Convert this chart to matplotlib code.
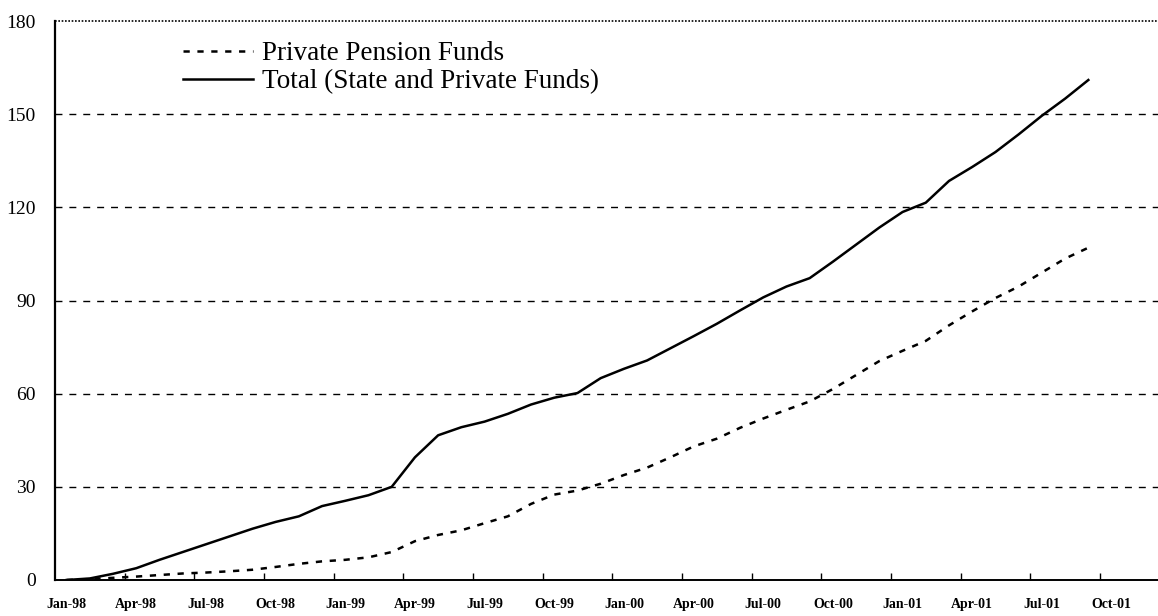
import matplotlib
matplotlib.use("Agg")
import matplotlib.pyplot as plt
import numpy as np

plt.rcParams['font.family'] = ['Liberation Serif', 'DejaVu Serif']
plt.rcParams['lines.scale_dashes'] = False

# monthly values, Jan-98 .. Sep-01
months = np.arange(45)
private_funds = [0.0, 0.3, 0.7, 1.1, 1.6, 2.1, 2.4, 2.8, 3.3, 4.2,
                 5.2, 6.0, 6.5, 7.3, 9.0, 12.5, 14.5, 16.0, 18.3, 20.5,
                 24.5, 27.5, 28.8, 31.0, 33.8, 36.2, 39.5, 43.0, 45.5, 49.0,
                 52.0, 54.8, 57.5, 61.5, 66.0, 70.5, 73.8, 77.0, 82.0, 86.5,
                 90.8, 94.5, 99.0, 103.5, 107.0]
total_funds = [0.0, 0.5, 2.0, 3.8, 6.5, 9.0, 11.5, 14.0, 16.5, 18.7,
               20.5, 23.8, 25.5, 27.3, 30.0, 39.5, 46.6, 49.2, 51.0, 53.5,
               56.5, 58.7, 60.2, 65.0, 68.0, 70.7, 74.6, 78.5, 82.5, 86.8,
               91.0, 94.5, 97.2, 102.5, 108.0, 113.5, 118.5, 121.5, 128.5, 133.0,
               137.8, 143.5, 149.5, 155.0, 161.0]

tick_labels = ['Jan-98', 'Apr-98', 'Jul-98', 'Oct-98', 'Jan-99', 'Apr-99', 'Jul-99', 'Oct-99',
               'Jan-00', 'Apr-00', 'Jul-00', 'Oct-00', 'Jan-01', 'Apr-01', 'Jul-01', 'Oct-01']
y_ticks = [0, 30, 60, 90, 120, 150, 180]

fig = plt.figure(figsize=(11.58, 6.16), dpi=100)
ax = fig.add_axes([55 / 1158, 1 - 580 / 616, 1 - 55 / 1158, (580 - 21) / 616])

# grid lines
for yv in y_ticks[1:-1]:
    ax.axhline(yv, color='black', lw=1.0, dashes=(5, 5), zorder=1)
ax.axhline(180, color='black', lw=1.2, dashes=(1.2, 1.2), zorder=1, clip_on=False)

ax.plot(months, private_funds, color='black', lw=1.8, dashes=(4.5, 5.5),
        label='Private Pension Funds', zorder=3)
ax.plot(months, total_funds, color='black', lw=1.8,
        label='Total (State and Private Funds)', zorder=3)

ax.set_xlim(-0.5, 47.0)
ax.set_ylim(0, 180)

ax.spines['top'].set_visible(False)
ax.spines['right'].set_visible(False)
ax.spines['left'].set_linewidth(1.6)
ax.spines['bottom'].set_linewidth(1.4)

ax.set_yticks(y_ticks)
ax.set_yticklabels([str(v) for v in y_ticks], fontsize=14)
ax.tick_params(axis='y', length=0, pad=14)

ax.set_xticks(np.arange(0, 46, 3))
ax.set_xticklabels(tick_labels, fontsize=10, fontweight='bold')
ax.tick_params(axis='x', length=0, pad=13)
ax.set_xticks(np.arange(2.5, 47, 3), minor=True)
ax.tick_params(axis='x', which='minor', direction='in', length=5, width=1)

ax.legend(loc='upper left', bbox_to_anchor=(183 / 1158, 1 - 41 / 616),
          bbox_transform=fig.transFigure, frameon=False, fontsize=19.5,
          handlelength=2.6, handletextpad=0.3, labelspacing=0.12,
          borderpad=0, borderaxespad=0)

fig.savefig('out.png', dpi=100)
